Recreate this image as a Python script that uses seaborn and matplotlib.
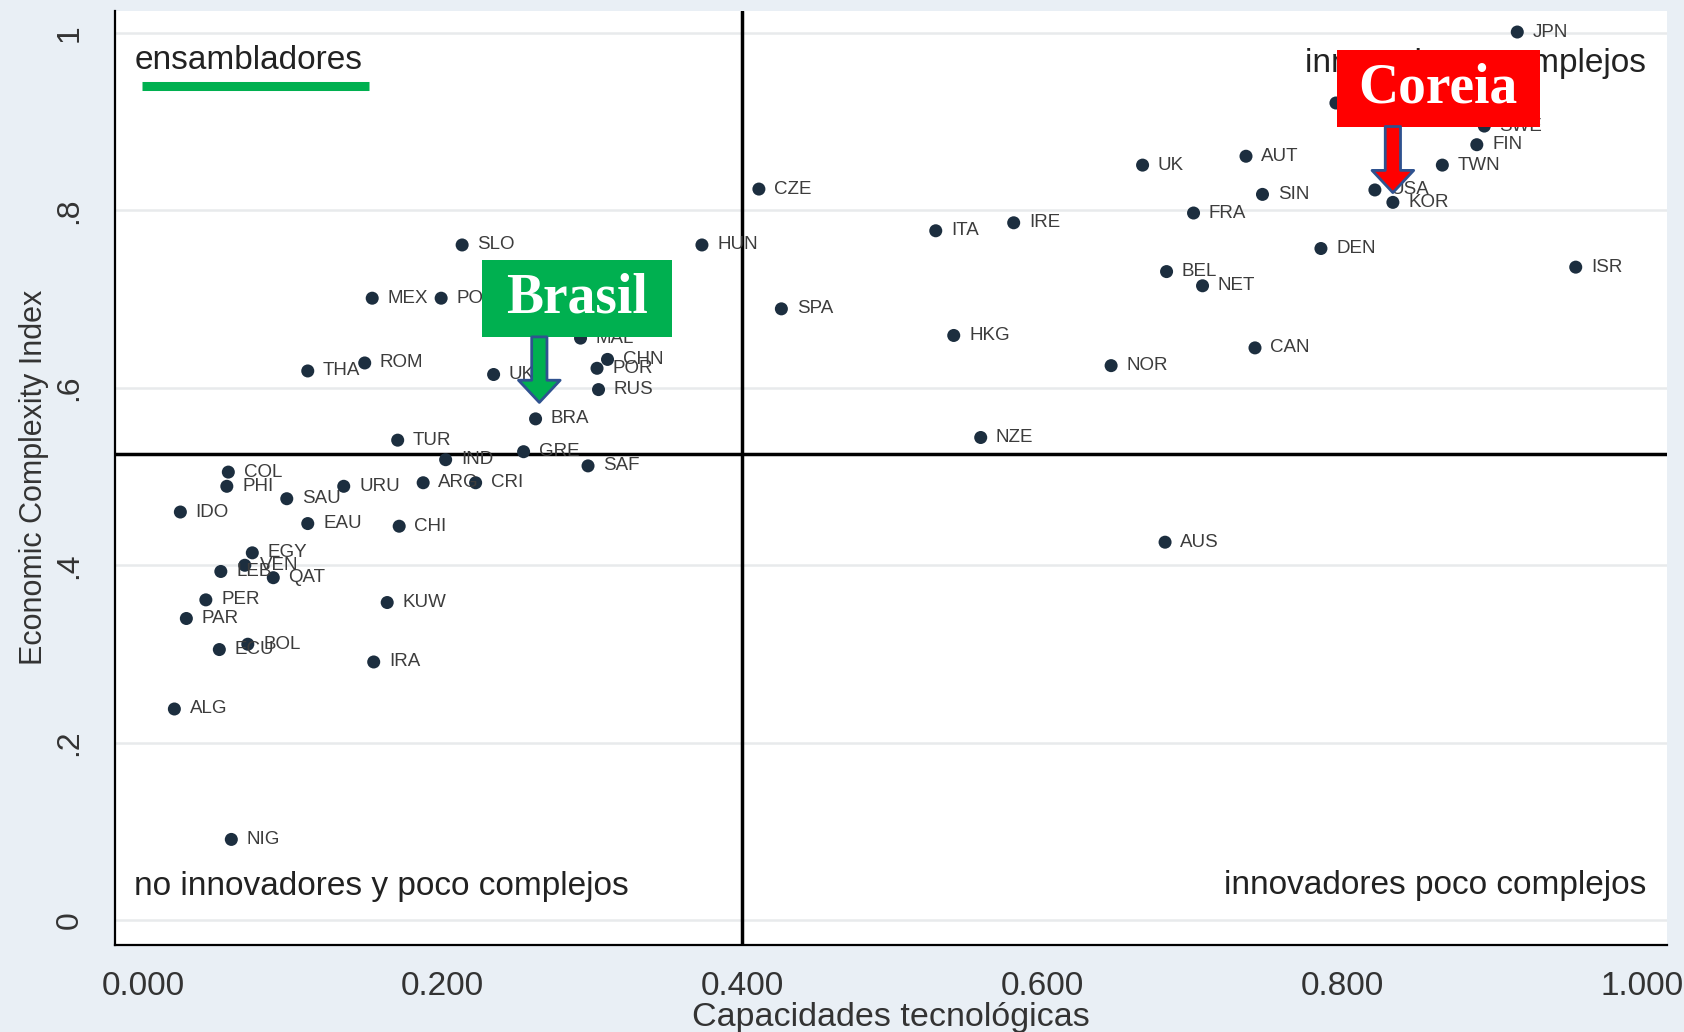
import pandas as pd
import matplotlib
matplotlib.use('Agg')
import matplotlib.pyplot as plt
from matplotlib.patches import Rectangle, FancyArrowPatch
import seaborn as sns

# country codes and values
countries = ['JPN', 'GER', 'SWE', 'FIN', 'TWN', 'AUT', 'UK', 'USA', 'KOR', 'SIN',
             'FRA', 'CZE', 'ITA', 'IRE', 'DEN', 'ISR', 'BEL', 'NET', 'HUN', 'SLO',
             'SPA', 'HKG', 'CAN', 'NOR', 'NZE', 'AUS', 'MEX', 'POL', 'MAL', 'CHN',
             'POR', 'RUS', 'UKR', 'ROM', 'THA', 'BRA', 'TUR', 'GRE', 'IND', 'SAF',
             'COL', 'PHI', 'URU', 'ARG', 'CRI', 'SAU', 'IDO', 'EAU', 'CHI', 'EGY',
             'LEB', 'VEN', 'QAT', 'PER', 'PAR', 'ECU', 'BOL', 'KUW', 'IRA', 'ALG',
             'NIG']
tech_cap = [0.917, 0.796, 0.895, 0.890, 0.867, 0.736, 0.667, 0.822, 0.834, 0.747,
            0.701, 0.411, 0.529, 0.581, 0.786, 0.956, 0.683, 0.707, 0.373, 0.213,
            0.426, 0.541, 0.742, 0.646, 0.559, 0.682, 0.153, 0.199, 0.292, 0.310,
            0.303, 0.304, 0.234, 0.148, 0.110, 0.262, 0.170, 0.254, 0.202, 0.297,
            0.057, 0.056, 0.134, 0.187, 0.222, 0.096, 0.025, 0.110, 0.171, 0.073,
            0.052, 0.068, 0.087, 0.042, 0.029, 0.051, 0.070, 0.163, 0.154, 0.021,
            0.059]
eci = [1.001, 0.921, 0.895, 0.874, 0.851, 0.861, 0.851, 0.823, 0.809, 0.818,
       0.797, 0.824, 0.777, 0.786, 0.757, 0.736, 0.731, 0.715, 0.761, 0.761,
       0.689, 0.659, 0.645, 0.625, 0.544, 0.426, 0.701, 0.701, 0.656, 0.632,
       0.622, 0.598, 0.615, 0.628, 0.619, 0.565, 0.541, 0.528, 0.519, 0.512,
       0.505, 0.489, 0.489, 0.493, 0.493, 0.475, 0.460, 0.447, 0.444, 0.414,
       0.393, 0.400, 0.386, 0.361, 0.340, 0.305, 0.311, 0.358, 0.291, 0.238,
       0.091]

x_ticks = [0.0, 0.2, 0.4, 0.6, 0.8, 1.0]
x_tick_labels = ['0.000', '0.200', '0.400', '0.600', '0.800', '1.000']
y_ticks = [0, 0.2, 0.4, 0.6, 0.8, 1.0]
y_tick_labels = ['0', '.2', '.4', '.6', '.8', '1']

x_cut = 0.4
y_cut = 0.525

df = pd.DataFrame({'pais': countries, 'cap': tech_cap, 'eci': eci})

sns.set_style('white')
plt.rcParams['font.family'] = ['Liberation Sans', 'DejaVu Sans']

bg = '#e9eff5'
fig = plt.figure(figsize=(16.84, 10.32), dpi=100, facecolor=bg)
ax = fig.add_axes([0.0683, 0.0843, 0.9217, 0.9053])
ax.set_facecolor('white')

ax.set_xlim(-0.0186, 1.017)
ax.set_ylim(-0.028, 1.025)

# grid
for yt in y_ticks:
    ax.axhline(yt, color='#e8eaec', lw=1.8, zorder=0)

sns.scatterplot(data=df, x='cap', y='eci', ax=ax, color='#1c2e3f', s=88,
                edgecolor='none', zorder=3, legend=False)

for _, r in df.iterrows():
    ax.annotate(r['pais'], (r['cap'], r['eci']), xytext=(11, 0),
                textcoords='offset points', va='center', ha='left',
                fontsize=13.5, color='#3c3c3c', zorder=3)

# quadrant lines
ax.axvline(x_cut, color='black', lw=2.5, zorder=2)
ax.axhline(y_cut, color='black', lw=2.5, zorder=2)

# quadrant names
qfs = 24
ax.text(-0.0057, 0.9685, 'ensambladores', fontsize=qfs, color='#222222',
        va='center', ha='left')
ax.text(1.003, 0.965, 'innovadores complejos', fontsize=qfs, color='#222222',
        va='center', ha='right')
ax.text(-0.0057, 0.0375, 'no innovadores y poco complejos', fontsize=qfs,
        color='#222222', va='center', ha='left')
ax.text(1.003, 0.0387, 'innovadores poco complejos', fontsize=qfs,
        color='#222222', va='center', ha='right')
ax.plot([-0.0007, 0.151], [0.9407, 0.9407], color='#00b050', lw=6.5,
        solid_capstyle='butt', zorder=4)

# highlight boxes with arrows
def callout(x0, x1, y0, y1, label, face, ax_x, tip_y):
    ax.add_patch(Rectangle((x0, y0), x1 - x0, y1 - y0, facecolor=face,
                           edgecolor='none', zorder=6))
    ax.text((x0 + x1) / 2, (y0 + y1) / 2, label, fontsize=40,
            fontweight='bold', family='Liberation Serif', color='white',
            ha='center', va='center', zorder=7)
    arr = FancyArrowPatch((ax_x, y0), (ax_x, tip_y),
                          arrowstyle='simple,tail_width=0.55,head_width=1.5,head_length=0.8',
                          mutation_scale=20, facecolor=face, edgecolor='#2f528f',
                          lw=2, shrinkA=0, shrinkB=0, zorder=6)
    ax.add_patch(arr)

callout(0.2265, 0.3527, 0.6574, 0.7446, 'Brasil', '#00b050', 0.2645, 0.5835)
callout(0.7964, 0.9319, 0.8945, 0.9806, 'Coreia', '#ff0000', 0.834, 0.820)

ax.set_xticks(x_ticks)
ax.set_xticklabels(x_tick_labels, fontsize=24, color='#333333')
ax.set_yticks(y_ticks)
ax.set_yticklabels(y_tick_labels, fontsize=23, color='#333333', rotation=90,
                   va='center')
ax.tick_params(axis='both', direction='out', length=9, width=1.5,
               color='#222222', pad=10)
ax.tick_params(axis='y', pad=13)

ax.set_xlabel('Capacidades tecnológicas', fontsize=24.5, color='#333333',
              labelpad=0)
ax.set_ylabel('Economic Complexity Index', fontsize=22, color='#333333',
              labelpad=4)

for side in ['top', 'right']:
    ax.spines[side].set_visible(False)
for side in ['left', 'bottom']:
    ax.spines[side].set_color('black')
    ax.spines[side].set_linewidth(1.6)

fig.savefig('out.png', dpi=100, facecolor=bg)
